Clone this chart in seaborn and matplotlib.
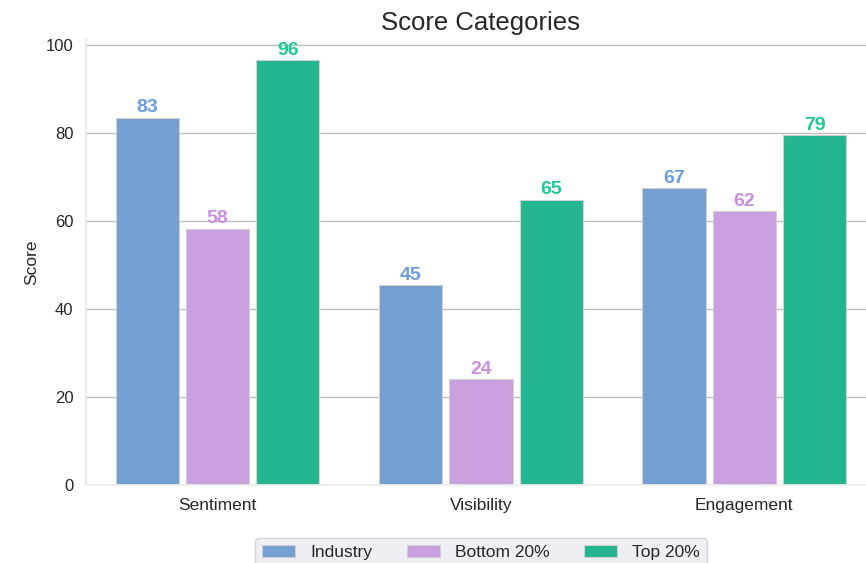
import matplotlib
matplotlib.use("Agg")
import matplotlib.pyplot as plt
import seaborn as sns
import pandas as pd

categories = ["Sentiment", "Visibility", "Engagement"]
series_names = ["Industry", "Bottom 20%", "Top 20%"]
industry = [83.4, 45.4, 67.4]
bottom20 = [58.2, 24.0, 62.2]
top20 = [96.4, 64.8, 79.4]

bar_colors = ["#739fd2", "#c99fdf", "#22b58f"]
label_colors = ["#6a9ddd", "#c990e0", "#1ec796"]

sns.set_theme(style="whitegrid")
plt.rcParams["font.family"] = ["Liberation Sans", "DejaVu Sans"]

rows = []
for name, vals in zip(series_names, [industry, bottom20, top20]):
    for c, v in zip(categories, vals):
        rows.append({"Category": c, "Series": name, "Score": v})
df = pd.DataFrame(rows)

fig = plt.figure(figsize=(8.66, 5.63), dpi=100)
ax = fig.add_axes([0.0993, 0.1385, 0.9122, 0.7916])

sns.barplot(data=df, x="Category", y="Score", hue="Series", order=categories,
            hue_order=series_names, palette=bar_colors, saturation=1,
            width=0.8, gap=0.1, edgecolor="#d0d0d0", linewidth=0.8,
            ax=ax, legend=True)

for container, col in zip(ax.containers, label_colors):
    ax.bar_label(container, labels=[f"{round(v):d}" for v in container.datavalues],
                 color=col, fontsize=14, fontweight="bold", padding=1)

ax.set_ylim(0, 101.2)
ax.set_xlim(-0.5, 2.5)
ax.set_yticks([0, 20, 40, 60, 80, 100])
ax.yaxis.grid(True, color="#bdbdbd", linewidth=1)
ax.xaxis.grid(False)
ax.set_axisbelow(True)
ax.set_title("Score Categories", fontsize=18.5, color="#262626", pad=7)
ax.set_xlabel("")
ax.set_ylabel("Score", fontsize=12.5, color="#262626", labelpad=5)
ax.tick_params(axis="y", labelsize=12, colors="#262626", length=0, pad=9)
ax.tick_params(axis="x", labelsize=12.5, colors="#262626", length=0, pad=9)
for s in ["top", "right"]:
    ax.spines[s].set_visible(False)
ax.spines["left"].set_color("#e6e6e6")
ax.spines["bottom"].set_color("#eeeeee")

ax.legend(loc="upper center", bbox_to_anchor=(0.5, -0.10), ncol=3, frameon=True,
          facecolor="#eaeaf2", edgecolor="#cccccc", fontsize=12.5,
          handlelength=1.9, handleheight=0.65, handletextpad=0.86,
          columnspacing=2.0, borderpad=0.4)

fig.savefig("out.png", dpi=100)
